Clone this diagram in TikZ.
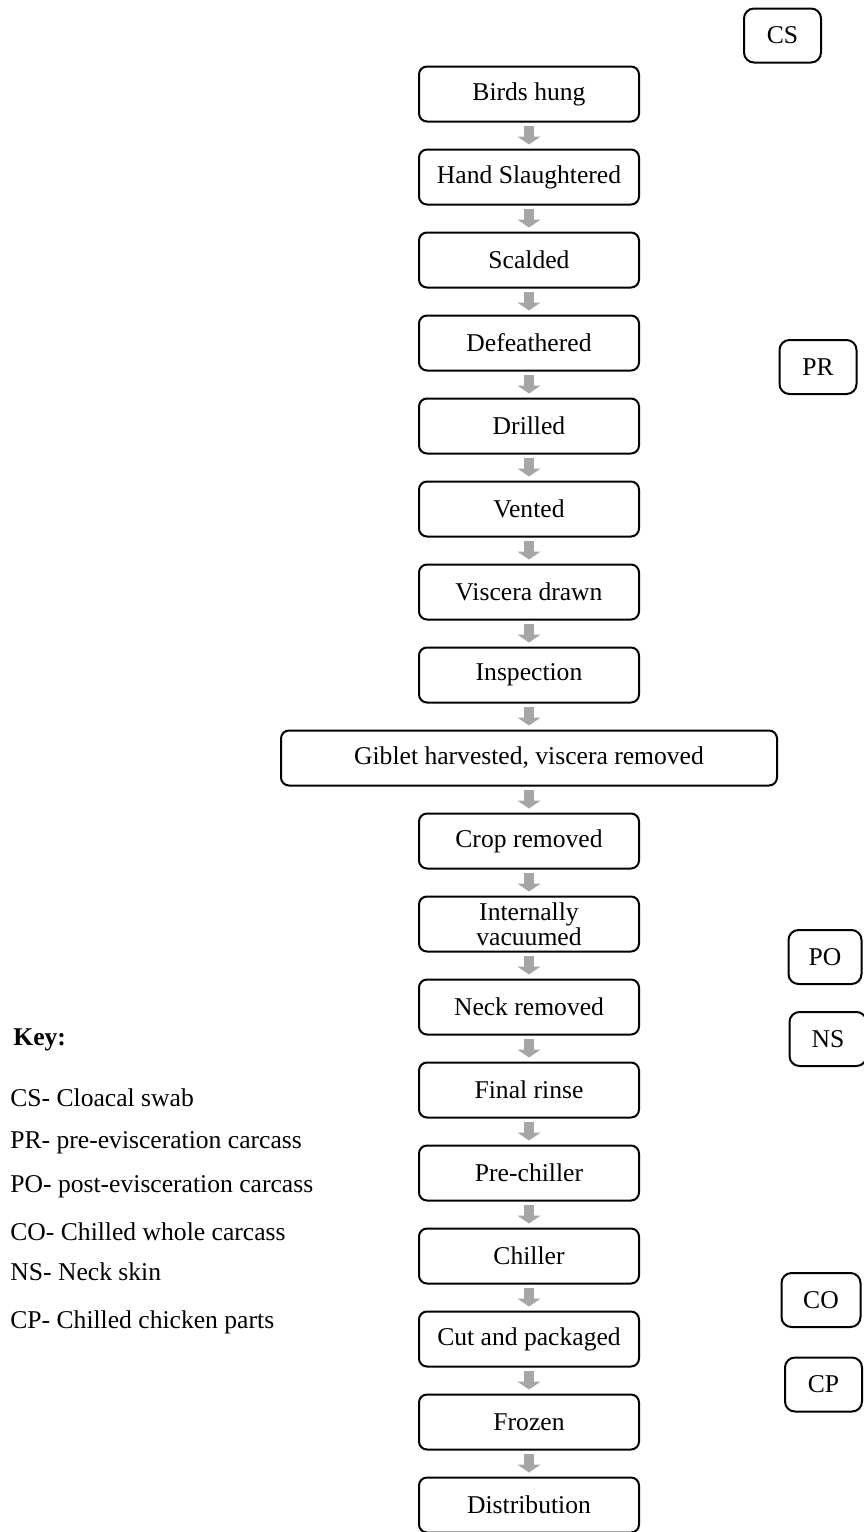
\documentclass[tikz,border=0pt]{standalone}
\usepackage{fontspec}
\setmainfont{Liberation Serif}
\usetikzlibrary{arrows.meta, positioning}

\tikzset{
    process/.style={
        rectangle, rounded corners=4pt, minimum width=110pt, minimum height=27.5pt, text centered, draw=black, line width=1pt, inner sep=1pt
    },
    sample/.style={
        rectangle, rounded corners=5pt, minimum width=38.5pt, minimum height=27pt, text centered, draw=black, line width=1pt, inner sep=1pt
    },
    keyitem/.style={
        anchor=west, inner sep=0pt
    },
    arrow/.style={
        draw=black!35, line width=5pt, -{Triangle[length=4pt, width=11.5pt]}, shorten <=1.5pt, shorten >=2pt
    }
}

\begin{document}
\begin{tikzpicture}[x=0.5pt, y=-0.5pt, node distance=13pt, every node/.style={font=\fontsize{12.8}{12.5}\selectfont, align=center}]
    \useasboundingbox (0,0) rectangle (863,1532);

    % Nodes
    \node (hung) [process] at (529,94) {Birds hung};
    \node (slaughter) [process, below=of hung] {Hand Slaughtered};
    \node (scald) [process, below=of slaughter] {Scalded};
    \node (defeather) [process, below=of scald] {Defeathered};
    \node (drill) [process, below=of defeather] {Drilled};
    \node (vent) [process, below=of drill] {Vented};
    \node (viscera) [process, below=of vent] {Viscera drawn};
    \node (inspect) [process, below=of viscera] {Inspection};
    \node (giblet) [process, below=of inspect, minimum width=248pt] {Giblet harvested, viscera removed};
    \node (crop) [process, below=of giblet] {Crop removed};
    \node (vacuum) [process, below=of crop] {Internally\\vacuumed};
    \node (neck) [process, below=of vacuum] {Neck removed};
    \node (rinse) [process, below=of neck] {Final rinse};
    \node (prechill) [process, below=of rinse] {Pre-chiller};
    \node (chill) [process, below=of prechill] {Chiller};
    \node (cut) [process, below=of chill] {Cut and packaged};
    \node (frozen) [process, below=of cut] {Frozen};
    \node (distrib) [process, below=of frozen] {Distribution};

    % Sampling points
    \node (cs) [sample] at (782.5,35.5) {CS};
    \node (pr) [sample] at (818,367) {PR};
    \node (po) [sample, minimum width=36.5pt] at (825,957) {PO};
    \node (ns) [sample] at (828,1039) {NS};
    \node (co) [sample, minimum width=39.5pt] at (821,1300) {CO};
    \node (cp) [sample] at (823.5,1384.5) {CP};

    % Key
    \node (key) [keyitem] at (13,1040) {\textbf{Key:}};
    \node (keycs) [keyitem] at (10,1098) {CS- Cloacal swab};
    \node (keypr) [keyitem] at (10,1143) {PR- pre-evisceration carcass};
    \node (keypo) [keyitem] at (10,1187) {PO- post-evisceration carcass};
    \node (keyco) [keyitem] at (10,1232) {CO- Chilled whole carcass};
    \node (keyns) [keyitem] at (10,1272) {NS- Neck skin};
    \node (keycp) [keyitem] at (10,1322) {CP- Chilled chicken parts};

    % Connections
    \draw [arrow] (hung) -- (slaughter);
    \draw [arrow] (slaughter) -- (scald);
    \draw [arrow] (scald) -- (defeather);
    \draw [arrow] (defeather) -- (drill);
    \draw [arrow] (drill) -- (vent);
    \draw [arrow] (vent) -- (viscera);
    \draw [arrow] (viscera) -- (inspect);
    \draw [arrow] (inspect) -- (giblet);
    \draw [arrow] (giblet) -- (crop);
    \draw [arrow] (crop) -- (vacuum);
    \draw [arrow] (vacuum) -- (neck);
    \draw [arrow] (neck) -- (rinse);
    \draw [arrow] (rinse) -- (prechill);
    \draw [arrow] (prechill) -- (chill);
    \draw [arrow] (chill) -- (cut);
    \draw [arrow] (cut) -- (frozen);
    \draw [arrow] (frozen) -- (distrib);
\end{tikzpicture}
\end{document}
